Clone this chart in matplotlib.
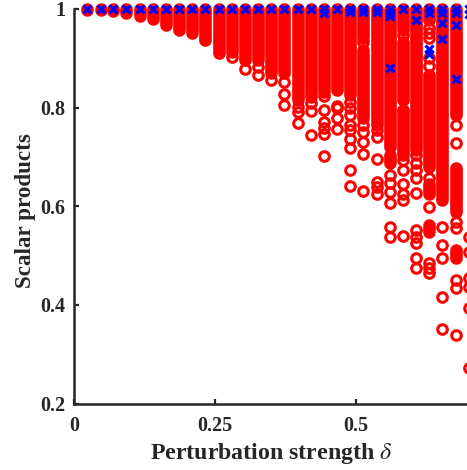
import matplotlib
matplotlib.use("Agg")
import matplotlib.pyplot as plt

plt.rcParams["font.family"] = ["Liberation Serif", "DejaVu Serif"]
plt.rcParams["mathtext.fontset"] = "stix"

delta = [0.023, 0.047, 0.070, 0.093, 0.117, 0.140, 0.163, 0.187, 0.210, 0.233,
         0.257, 0.280, 0.303, 0.327, 0.350, 0.373, 0.397, 0.420, 0.443, 0.467,
         0.490, 0.513, 0.537, 0.560, 0.583, 0.607, 0.630, 0.653, 0.677, 0.700]

# solid stretches per column, too dense to tell single points apart (high, low)
dense = [
    [(1, 0.997)], [(1, 0.997)], [(1, 0.996)], [(1, 0.992)], [(1, 0.986)], [(1, 0.980)],
    [(1, 0.968)], [(1, 0.958)],
    [(1, 0.952)], [(1, 0.941)], [(1, 0.917)], [(1, 0.913)], [(1, 0.897)], [(1, 0.897)],
    [(1, 0.870)], [(1, 0.870)], [(1, 0.815)], [(1, 0.822)], [(1, 0.832)], [(1, 0.836)],
    [(1, 0.826)], [(1, 0.941), (0.917, 0.779)], [(1, 0.765)],
    [(1, 0.720), (0.704, 0.688)],
    [(1, 0.958), (0.933, 0.815), (0.793, 0.704)],
    [(1, 0.714)],
    [(1, 0.978), (0.860, 0.680), (0.645, 0.625), (0.562, 0.548)],
    [(1, 0.613)],
    [(1, 0.785), (0.678, 0.588), (0.511, 0.495)],
    [(1, 0.917), (0.897, 0.552)],
]

rings = [
    [], [], [], [], [], [], [], [], [], [0.937], [0.910], [0.903], [0.878],
    [0.882, 0.866], [0.856], [0.852, 0.828, 0.805], [0.801, 0.791, 0.769],
    [0.809, 0.793, 0.744], [0.824, 0.795, 0.771, 0.759, 0.747, 0.702],
    [0.803, 0.799, 0.779, 0.757], [0.811, 0.799, 0.785, 0.765, 0.755, 0.736, 0.718, 0.673, 0.641],
    [0.933, 0.765, 0.751, 0.730, 0.706, 0.631], [0.755, 0.740, 0.696, 0.649, 0.639, 0.625],
    [0.663, 0.647, 0.629, 0.607, 0.558, 0.538],
    [0.947, 0.795, 0.694, 0.673, 0.645, 0.625, 0.613, 0.540],
    [0.704, 0.688, 0.673, 0.657, 0.627, 0.552, 0.538, 0.525, 0.495, 0.475],
    [0.961, 0.951, 0.941, 0.901, 0.884, 0.866, 0.657, 0.598, 0.485, 0.475, 0.465],
    [0.558, 0.521, 0.495, 0.416, 0.351],
    [0.765, 0.728, 0.568, 0.556, 0.450, 0.434, 0.339],
    [0.538, 0.507, 0.454, 0.436, 0.394, 0.272],
]

# blue crosses sitting below the top row
cross_x = [0.443, 0.490, 0.513, 0.537, 0.560, 0.560, 0.560, 0.607, 0.630, 0.630, 0.630,
           0.653, 0.653, 0.653, 0.677, 0.677, 0.677, 0.700]
cross_y = [0.992, 0.994, 0.994, 0.994, 0.992, 0.986, 0.880, 0.978, 0.992, 0.919, 0.909,
           0.992, 0.972, 0.939, 0.992, 0.968, 0.858, 0.990]

x_ticks = [0, 0.25, 0.5]
x_labels = ["0", "0.25", "0.5"]
y_ticks = [0.2, 0.4, 0.6, 0.8, 1]
y_labels = ["0.2", "0.4", "0.6", "0.8", "1"]

ink = "#262626"

fig = plt.figure(figsize=(4.67, 4.70), dpi=100)
ax = fig.add_axes([74 / 467, 1 - 403.5 / 470, 394.8 / 467, 394.5 / 470])

for x, stretches, values in zip(delta, dense, rings):
    for hi, lo in stretches:
        ax.plot([x, x], [hi, lo], color="#ff0000", lw=9.1, solid_capstyle="round", clip_on=False, zorder=3)
    ax.plot([x] * len(values), values, "o", mfc="none", mec="#ff0000", ms=6.9, mew=2.2, clip_on=False, zorder=3)

ax.plot(delta, [1] * len(delta), "x", color="#0000ff", ms=5.5, mew=2.3, clip_on=False, zorder=4)
ax.plot(cross_x, cross_y, "x", color="#0000ff", ms=5.5, mew=2.3, clip_on=False, zorder=4)

ax.set_xlim(0, 0.7)
ax.set_ylim(0.2, 1)
ax.set_xticks(x_ticks)
ax.set_xticklabels(x_labels)
ax.set_yticks(y_ticks)
ax.set_yticklabels(y_labels)
ax.tick_params(axis="x", direction="in", length=3.6, width=1.6, color=ink, labelcolor=ink, labelsize=14.5, pad=9)
ax.tick_params(axis="y", direction="in", length=3.6, width=1.6, color=ink, labelcolor=ink, labelsize=14.5, pad=6.5)
for label in ax.get_xticklabels() + ax.get_yticklabels():
    label.set_fontweight("bold")

ax.spines["top"].set_visible(False)
ax.spines["right"].set_visible(False)
ax.spines["left"].set_linewidth(1.8)
ax.spines["bottom"].set_linewidth(1.8)
ax.spines["left"].set_color(ink)
ax.spines["bottom"].set_color(ink)

ax.set_xlabel(r"Perturbation strength $\delta$", fontsize=17.2, fontweight="bold", color=ink)
ax.set_ylabel("Scalar products", fontsize=16.6, fontweight="bold", color=ink)
ax.xaxis.set_label_coords(0.5, -0.095)
ax.yaxis.set_label_coords(-0.095, 0.49)

fig.savefig("out.png", dpi=100)
plt.close(fig)
